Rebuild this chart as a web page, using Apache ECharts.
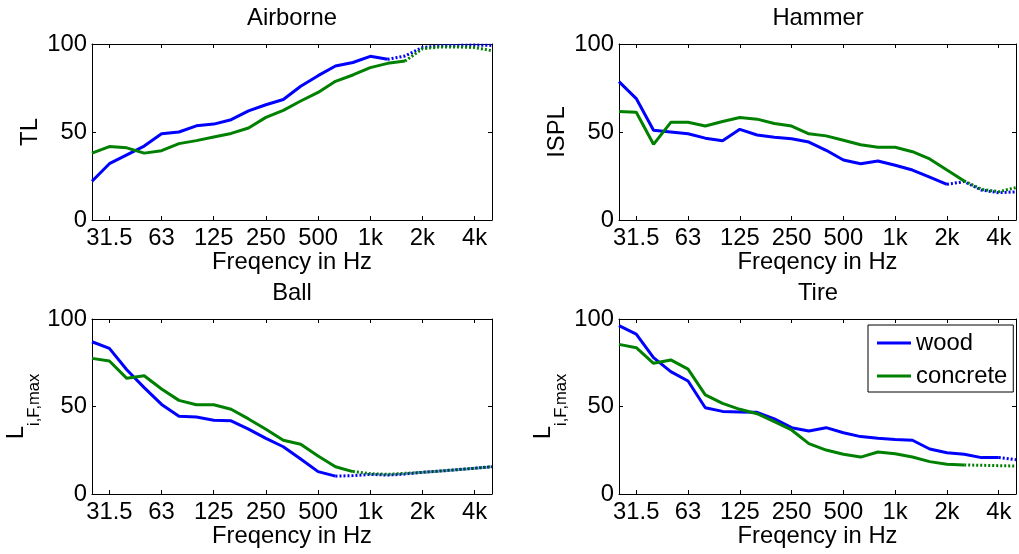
<!DOCTYPE html>
<html>
<head>
<meta charset="utf-8">
<script src="https://cdn.jsdelivr.net/npm/echarts@6/dist/echarts.min.js"></script>
<style>
html,body{margin:0;padding:0;background:#fff;}
#chart{width:1019px;height:554px;}
</style>
</head>
<body>
<div id="chart"></div>
<script>
// Third-octave band centre frequencies (category axis)
const bands = ['25','31.5','40','50','63','80','100','125','160','200','250','315','400','500','630','800','1k','1.25k','1.6k','2k','2.5k','3.15k','4k','5k'];
const tickLabels = ['31.5','63','125','250','500','1k','2k','4k'];
const yTicks = [0, 50, 100];
const legendNames = ['wood', 'concrete'];
const panelTitles = ['Airborne', 'Hammer', 'Ball', 'Tire'];
const xLabel = 'Freqency in Hz';

// Airborne (TL)
const airborneWood     = [22, 32, 37, 42, 49, 50, 53.5, 54.5, 57, 62, 65.5, 68.5, 76, 82, 87.5, 89.5, 93, 91.3, 93.2, 98, 99, 99.2, 99.4, 99.2];
const airborneConcrete = [38, 41.7, 41, 38, 39.4, 43.4, 45.1, 47.2, 49.2, 52.3, 58.3, 62.3, 67.6, 72.5, 78.8, 82.4, 86.6, 89, 90.3, 97.3, 98.3, 98.3, 98, 96.2];
const airborneSolidEnd = [17, 18];
// Hammer (ISPL)
const hammerWood     = [78.6, 69, 51, 50, 49, 46.5, 45, 51.5, 48.3, 47, 46.2, 44.3, 39.6, 34.1, 32, 33.5, 31.1, 28.4, 24.4, 20.3, 21.8, 17, 15.5, 16];
const hammerConcrete = [61.6, 61.2, 43, 55.5, 55.5, 53.4, 56, 58.2, 57.3, 54.8, 53.4, 49, 47.8, 45.3, 42.8, 41.3, 41.3, 38.8, 34.7, 28.4, 22.2, 17.4, 16.1, 18.4];
const hammerSolidEnd = [19, 20];
// Ball (L_i,F,max)
const ballWood     = [87, 83.2, 71, 60.8, 51.2, 44.4, 44, 42.2, 41.8, 37.1, 31.8, 27, 20, 12.8, 10.2, 10.5, 11.2, 10.8, 11.4, 12.4, 13.1, 13.9, 14.7, 15.6];
const ballConcrete = [77.5, 76, 66.1, 67.6, 60, 53.5, 51, 51, 48.4, 42.9, 37, 30.7, 28.4, 21.7, 15.6, 12.8, 11.6, 11.2, 11.8, 12.4, 13.1, 13.9, 14.7, 15.6];
const ballSolidEnd = [14, 15];
// Tire (L_i,F,max)
const tireWood     = [96.2, 91.4, 77.9, 69.9, 64.6, 49.3, 47.2, 46.9, 46.7, 42.9, 37.9, 36, 37.9, 35, 32.8, 31.8, 31.2, 30.7, 25.7, 23.6, 22.7, 20.8, 20.8, 19.6];
const tireConcrete = [85.5, 83.6, 74.7, 76.6, 71.4, 56.6, 51.8, 48.4, 45.9, 41.3, 36.6, 28.8, 25.1, 22.7, 21.1, 24, 23, 21.1, 18.5, 17, 16.6, 16.4, 16.2, 16];
const tireSolidEnd = [22, 20];

const FONT = "'Liberation Sans', Arial, Helvetica, sans-serif";
const FS = 23.8;
const colors = ['#0000ff', '#008000'];

const panels = [
  {title: panelTitles[0], yName: 'TL',   rich: false, data: [airborneWood, airborneConcrete], split: airborneSolidEnd, left: 92,  top: 44,  width: 400, height: 176},
  {title: panelTitles[1], yName: 'ISPL', rich: false, data: [hammerWood, hammerConcrete],     split: hammerSolidEnd,   left: 619, top: 44,  width: 398, height: 176},
  {title: panelTitles[2], yName: '{m|L}{s|i,F,max}', rich: true, data: [ballWood, ballConcrete], split: ballSolidEnd, left: 92,  top: 319, width: 400, height: 175},
  {title: panelTitles[3], yName: '{m|L}{s|i,F,max}', rich: true, data: [tireWood, tireConcrete], split: tireSolidEnd, left: 619, top: 319, width: 398, height: 175}
];

const grid = [], xAxis = [], yAxis = [], series = [], title = [];
const tickShow = (i, v) => tickLabels.indexOf(bands[i]) >= 0;

panels.forEach((p, k) => {
  grid.push({left: p.left, top: p.top, width: p.width, height: p.height, containLabel: false});
  title.push({
    text: p.title, left: p.left + p.width / 2, top: p.top - 38, textAlign: 'center', padding: 0,
    textStyle: {fontFamily: FONT, fontSize: FS, fontWeight: 'normal', color: '#000'}
  });
  const baseX = {
    type: 'category', data: bands, gridIndex: k, boundaryGap: false,
    axisLine: {show: true, onZero: false, lineStyle: {color: '#000', width: 1}},
    axisTick: {show: true, inside: true, length: 4, interval: tickShow, lineStyle: {color: '#000', width: 1}},
    splitLine: {show: false}
  };
  xAxis.push(Object.assign({}, baseX, {
    position: 'bottom',
    name: xLabel, nameLocation: 'middle', nameGap: 30,
    nameTextStyle: {fontFamily: FONT, fontSize: FS, color: '#000'},
    axisLabel: {show: true, interval: 0, margin: 6, fontFamily: FONT, fontSize: FS, color: '#000',
      showMinLabel: false, showMaxLabel: false,
      formatter: v => tickLabels.indexOf(v) >= 0 ? v : ''}
  }));
  xAxis.push(Object.assign({}, baseX, {position: 'top', axisLabel: {show: false}}));
  const baseY = {
    type: 'value', gridIndex: k, min: yTicks[0], max: yTicks[yTicks.length - 1], interval: yTicks[1] - yTicks[0],
    axisLine: {show: true, lineStyle: {color: '#000', width: 1}},
    axisTick: {show: true, inside: true, length: 4, lineStyle: {color: '#000', width: 1}},
    splitLine: {show: false}
  };
  const nameStyle = {fontFamily: FONT, fontSize: FS, color: '#000'};
  if (p.rich) {
    nameStyle.rich = {
      m: {fontFamily: FONT, fontSize: FS, color: '#000', verticalAlign: 'top'},
      s: {fontFamily: FONT, fontSize: 16.5, color: '#000', verticalAlign: 'bottom', padding: [22, 0, 0, 0]}
    };
  }
  yAxis.push(Object.assign({}, baseY, {
    position: 'left',
    name: p.yName, nameLocation: 'middle', nameRotate: 90, nameGap: p.rich ? 44 : 50,
    nameTextStyle: nameStyle,
    axisLabel: {show: true, margin: 5, fontFamily: FONT, fontSize: FS, color: '#000'}
  }));
  yAxis.push(Object.assign({}, baseY, {position: 'right', axisLabel: {show: false}}));

  p.data.forEach((arr, m) => {
    const end = p.split[m];
    const solid = arr.map((v, i) => i <= end ? v : null);
    const dotted = arr.map((v, i) => i >= end ? v : null);
    series.push({
      name: legendNames[m], type: 'line', xAxisIndex: 2 * k, yAxisIndex: 2 * k,
      data: solid, symbol: 'none', showSymbol: false, connectNulls: false,
      lineStyle: {color: colors[m], width: 3, type: 'solid'}, itemStyle: {color: colors[m]},
      z: 3 + m, silent: true
    });
    series.push({
      name: legendNames[m] + '_ext', type: 'line', xAxisIndex: 2 * k, yAxisIndex: 2 * k,
      data: dotted, symbol: 'none', showSymbol: false, connectNulls: false,
      lineStyle: {color: colors[m], width: 3, type: [2, 2]}, itemStyle: {color: colors[m]},
      z: 3 + m, silent: true
    });
  });
});

const chart = echarts.init(document.getElementById('chart'), null, {renderer: 'canvas'});
chart.setOption({
  animation: false,
  backgroundColor: '#fff',
  title: title,
  grid: grid,
  xAxis: xAxis,
  yAxis: yAxis,
  series: series,
  legend: {
    data: legendNames, orient: 'vertical', left: 868, top: 325,
    padding: [6, 6, 4, 9], itemGap: 9, itemWidth: 34, itemHeight: 3, icon: 'rect',
    borderColor: '#000', borderWidth: 1, backgroundColor: '#fff',
    textStyle: {fontFamily: FONT, fontSize: FS, color: '#000'},
    selectedMode: false
  }
});
</script>
</body>
</html>
